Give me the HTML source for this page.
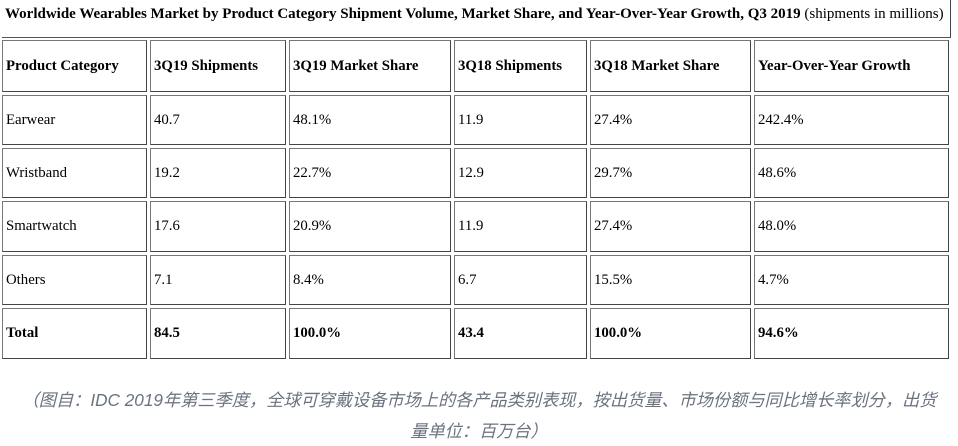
<!DOCTYPE html>
<html><head><meta charset="utf-8"><style>
body{margin:0;width:958px;height:446px;background:#fff;position:relative;overflow:hidden;font-family:"Liberation Serif",serif;color:#000}
.c{position:absolute;box-sizing:border-box;border:1px solid #444;border-top-color:#777;border-left-color:#777;font-size:14.8px;display:flex;align-items:center;padding-left:3px;white-space:nowrap}
.b{font-weight:bold}
.t{position:absolute;left:5px;top:6px;font-size:15px;white-space:nowrap}
.cap{position:absolute;left:0;width:958px;text-align:center;font-family:"Liberation Sans","Noto Sans CJK SC",sans-serif;font-style:italic;color:#6b7280;font-size:17.2px;white-space:nowrap}
</style></head><body>
<div class="t"><b>Worldwide Wearables Market by Product Category Shipment Volume, Market Share, and Year-Over-Year Growth, Q3 2019</b> (shipments in millions)</div>
<div style="position:absolute;left:950px;top:0;width:1px;height:38px;background:#444"></div>
<div style="position:absolute;left:2px;top:37px;width:949px;height:1px;background:#555"></div>
<div id="g"></div>
<div class="cap" style="top:386px">（图自：IDC 2019年第三季度，全球可穿戴设备市场上的各产品类别表现，按出货量、市场份额与同比增长率划分，出货</div>
<div class="cap" style="top:417px">量单位：百万台）</div>
<script>
var cols=[2,148,287,452,588,752,950],rows=[39,94,147,200,254,307,361];
var d=[["Product Category","3Q19 Shipments","3Q19 Market Share","3Q18 Shipments","3Q18 Market Share","Year-Over-Year Growth"],
["Earwear","40.7","48.1%","11.9","27.4%","242.4%"],
["Wristband","19.2","22.7%","12.9","29.7%","48.6%"],
["Smartwatch","17.6","20.9%","11.9","27.4%","48.0%"],
["Others","7.1","8.4%","6.7","15.5%","4.7%"],
["Total","84.5","100.0%","43.4","100.0%","94.6%"]];
var h="";
for(var r=0;r<6;r++)for(var c=0;c<6;c++){
var x=cols[c]+(c?2:0),w=cols[c+1]-x-1,y=rows[r]+1,hh=rows[r+1]-y-2;
h+='<div class="c'+((r==0||r==5)?' b':'')+'" style="left:'+x+'px;top:'+y+'px;width:'+w+'px;height:'+hh+'px">'+d[r][c]+'</div>';}
document.getElementById("g").innerHTML=h;
</script>
</body></html>
